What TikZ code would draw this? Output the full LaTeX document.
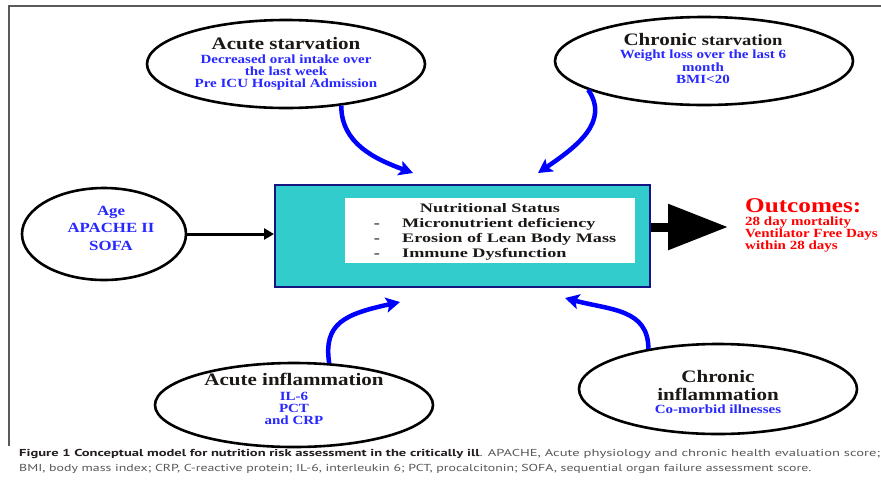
\documentclass[tikz,border=0pt]{standalone}
\usepackage{fontspec}
\usepackage{graphicx}
\usetikzlibrary{shapes.geometric,arrows.meta}
\setmainfont{Liberation Serif}
\newfontfamily\wserif[FakeStretch=1.2]{Liberation Serif}
\newfontfamily\bxserif[FakeStretch=1.4]{Liberation Serif}
\newfontfamily\capsans{PT Sans}
\definecolor{ttl}{RGB}{28,24,22}
\definecolor{subblue}{RGB}{40,40,255}
\definecolor{arrblue}{RGB}{0,0,255}
\definecolor{teal1}{RGB}{51,204,204}
\definecolor{navy1}{RGB}{20,20,130}
\definecolor{outred}{RGB}{255,0,0}
\definecolor{frame1}{RGB}{90,90,90}
\definecolor{capdark}{RGB}{35,31,32}
\definecolor{capgray}{RGB}{88,88,90}
\tikzset{
  oval/.style={ellipse, draw=black, line width=2.6pt, inner sep=0pt},
  ttltxt/.style={anchor=base, inner sep=0pt, text=ttl, font=\wserif\bfseries\fontsize{17.5pt}{18pt}\selectfont},
  subtxt/.style={anchor=base, inner sep=0pt, text=subblue, font=\wserif\bfseries\fontsize{12.5pt}{13pt}\selectfont},
  agetxt/.style={anchor=base, inner sep=0pt, text=subblue, font=\wserif\bfseries\fontsize{14pt}{15pt}\selectfont},
  boxtxt/.style={anchor=base, inner sep=0pt, text=ttl, font=\bxserif\bfseries\fontsize{13pt}{14pt}\selectfont},
  outtxt/.style={anchor=base west, inner sep=0pt, text=outred, font=\wserif\bfseries\fontsize{12.5pt}{13pt}\selectfont},
  bluearrow/.style={draw=arrblue, line width=4.5pt, -{Stealth[length=14pt,width=15pt,inset=3pt]}},
  agearrow/.style={draw=black, line width=3pt, -{Triangle[length=10pt,width=11pt]}},
  bigarrow/.style={draw=black, line width=9pt, -{Triangle[length=60pt,width=44pt]}},
  captxt/.style={anchor=base west, inner sep=0pt, font=\capsans}
}
\begin{document}
\begin{tikzpicture}[x=1pt,y=-1pt]
\useasboundingbox (0,0) rectangle (881,480);
\fill[white] (0,0) rectangle (881,480);
% frame
\draw[frame1, line width=1.3pt] (9,446) -- (9,6) -- (881,6);

% central box
\node[draw=navy1, fill=teal1, line width=2pt, minimum width=375pt, minimum height=102pt, inner sep=0pt] (box) at (462.5,236) {};
\node[fill=white, minimum width=290pt, minimum height=65pt, inner sep=0pt] (inner) at (490,230.5) {};
\node[boxtxt] (ns) at (490,212) {Nutritional Status};
\node[boxtxt] (d1) at (377,227) {-};
\node[boxtxt] (d2) at (377,242) {-};
\node[boxtxt] (d3) at (377,257) {-};
\node[boxtxt, anchor=base west] (m1) at (402,227) {Micronutrient deficiency};
\node[boxtxt, anchor=base west] (m2) at (402,242) {Erosion of Lean Body Mass};
\node[boxtxt, anchor=base west] (m3) at (402,257) {Immune Dysfunction};

% ellipses
\node[oval, minimum width=278pt, minimum height=88pt] (as) at (286,64) {};
\node[ttltxt] (as1) at (286,49) {Acute starvation};
\node[subtxt] (as2) at (286,63) {Decreased oral intake over};
\node[subtxt] (as3) at (286,75) {the last week};
\node[subtxt] (as4) at (286,87) {Pre ICU Hospital Admission};

\node[oval, minimum width=298pt, minimum height=88pt] (cs) at (704,61) {};
\node[ttltxt] (cs1) at (703,45) {Chronic {\fontsize{15.5pt}{16pt}\selectfont starvation}};
\node[subtxt] (cs2) at (703,58) {Weight loss over the last 6};
\node[subtxt] (cs3) at (703,71) {month};
\node[subtxt] (cs4) at (703,83) {BMI<20};

\node[oval, minimum width=164pt, minimum height=92pt] (age) at (104,234) {};
\node[agetxt] (age1) at (111,215) {Age};
\node[agetxt] (age2) at (111,232) {APACHE II};
\node[agetxt] (age3) at (111,250) {SOFA};

\node[oval, minimum width=278pt, minimum height=84pt] (ai) at (294,405) {};
\node[ttltxt] (ai1) at (294,385) {Acute inflammation};
\node[subtxt] (ai2) at (294,400) {IL-6};
\node[subtxt] (ai3) at (294,412) {PCT};
\node[subtxt] (ai4) at (294,424) {and CRP};

\node[oval, minimum width=278pt, minimum height=90pt] (ci) at (718,389) {};
\node[ttltxt] (ci1) at (718,382) {Chronic};
\node[ttltxt] (ci2) at (718,400) {inflammation};
\node[subtxt] (ci3) at (718,413) {Co-morbid illnesses};

% outcomes
\node[anchor=base west, inner sep=0pt, text=outred, font=\wserif\bfseries\fontsize{21pt}{22pt}\selectfont] (out) at (745,212) {Outcomes:};
\node[outtxt] (o1) at (745,225) {28 day mortality};
\node[outtxt] (o2) at (745,237) {Ventilator Free Days};
\node[outtxt] (o3) at (745,249) {within 28 days};

% connectors
\coordinate (oarrow) at (728,227);
\draw[bigarrow] (box.east |- oarrow) -- (oarrow);
\draw[agearrow] (age.east) -- (age.east -| box.west);

\coordinate (t1) at (413,173);
\coordinate (t2) at (538,173);
\coordinate (t3) at (400,302);
\coordinate (t4) at (565,298);
\draw[bluearrow] (as.-37) .. controls +(0,38) and +(-38,-14) .. (t1);
\draw[bluearrow] (cs.-166) .. controls +(22,32) and +(38,-26) .. (t2);
\draw[bluearrow] (ai.50) .. controls +(-6,-40) and +(-55,12) .. (t3);
\draw[bluearrow] (ci.150) .. controls +(0,-40) and +(45,12) .. (t4);

% caption
\node[captxt] (cap1) at (19,456) {\resizebox{861pt}{7.2pt}{\textcolor{capdark}{\bfseries Figure 1 Conceptual model for nutrition risk assessment in the critically ill}\textcolor{capgray}{. APACHE, Acute physiology and chronic health evaluation score;}}};
\node[captxt] (cap2) at (19,471) {\resizebox{792pt}{7.2pt}{\textcolor{capgray}{BMI, body mass index; CRP, C-reactive protein; IL-6, interleukin 6; PCT, procalcitonin; SOFA, sequential organ failure assessment score.}}};
\end{tikzpicture}
\end{document}
